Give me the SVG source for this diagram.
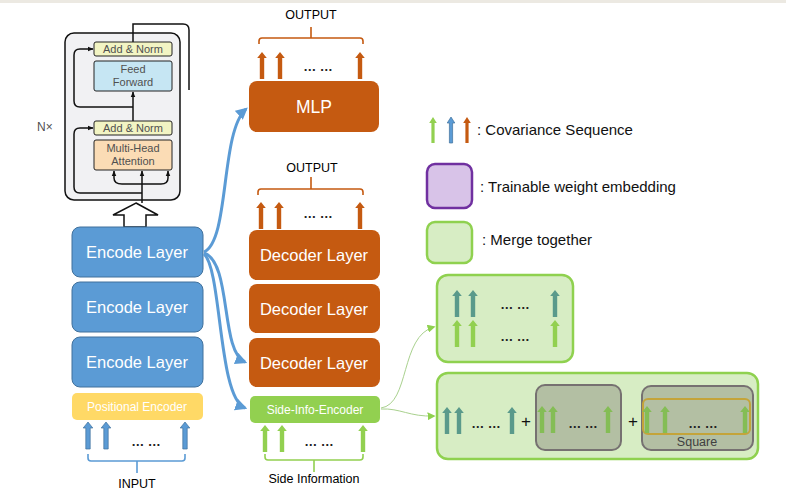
<svg xmlns="http://www.w3.org/2000/svg" xmlns:xlink="http://www.w3.org/1999/xlink" width="786" height="493" viewBox="0 0 786 493">
<style>
text{font-family:"Liberation Sans",Arial,sans-serif}
.lbl{fill:#ffffff;text-anchor:middle}
.big{font-size:16.5px}
.blk{fill:#000;text-anchor:middle;font-size:12.5px}
.leg{fill:#111;font-size:15px}
.tf{fill:#505050;font-size:11px;text-anchor:middle}
.dots{font-size:13px;font-weight:bold;fill:#222;text-anchor:middle}
.enc{fill:#5b9bd5;stroke:#41719c;stroke-width:1}
.dec{fill:#c55a11}
.ab{fill:#5b9bd5;stroke:#41719c;stroke-width:0.7}
.ao{fill:#c55a11}
.ag{fill:#92d050}
.ag2{fill:#84bd55}
.at{fill:#5a9a8b}
.merge{fill:#d7edc4;stroke:#8fd14f;stroke-width:2.5}
.gray{fill:#b3bfa3;stroke:#767171;stroke-width:2}
.tline{fill:none;stroke:#111;stroke-width:1.5}
.tbox{stroke:#222;stroke-width:1}
.brace-b{fill:none;stroke:#5b9bd5;stroke-width:1.6}
.brace-o{fill:none;stroke:#c55a11;stroke-width:1.6}
.brace-g{fill:none;stroke:#92d050;stroke-width:1.6}
.conn-b{fill:none;stroke:#5b9bd5;stroke-width:3}
.conn-g{fill:none;stroke:#a9d18e;stroke-width:1}
</style>
<defs>
<path id="arw" d="M-2.2,27 V6 H-4.8 L0,0 L4.8,6 H2.2 V27 Z"/>
<path id="arwT" d="M-1.6,26 V6 H-3.8 L0,0 L3.8,6 H1.6 V26 Z"/>
<marker id="mb" viewBox="0 0 10 10" refX="8" refY="5" markerWidth="4" markerHeight="4" orient="auto" markerUnits="strokeWidth"><path d="M0,0 L10,5 L0,10 Z" fill="#5b9bd5"/></marker>
<marker id="mg" viewBox="0 0 10 10" refX="8" refY="5" markerWidth="8" markerHeight="8" orient="auto" markerUnits="strokeWidth"><path d="M0,0 L10,5 L0,10 Z" fill="#8fd14f"/></marker>
<marker id="mk" viewBox="0 0 10 10" refX="9" refY="5" markerWidth="4" markerHeight="4" orient="auto" markerUnits="strokeWidth"><path d="M0,1 L10,5 L0,9 Z" fill="#111"/></marker>
</defs>
<rect x="0" y="0" width="786" height="493" fill="#ffffff"/>
<rect x="0" y="0" width="786" height="3" fill="#ece9e2"/>

<g id="transformer">
<rect x="65" y="33" width="115" height="167" rx="9" fill="#f1f1f3" stroke="#111" stroke-width="1.5"/>
<path class="tline" d="M133,42 V24 H183 Q189,24 189,30 V90"/>
<path class="tline" d="M133,107 H80 Q74,107 74,101 V55 Q74,49 80,49 H93" marker-end="url(#mk)"/>
<path class="tline" d="M142,193 H80 Q74,193 74,187 V134 Q74,128 80,128 H93" marker-end="url(#mk)"/>
<path class="tline" d="M133,122 V92" marker-end="url(#mk)"/>
<path class="tline" d="M142,203 V171" marker-end="url(#mk)"/>
<path class="tline" d="M142,184 H122 Q114,184 114,178 V171" marker-end="url(#mk)"/>
<path class="tline" d="M142,184 H161 Q168,184 168,178 V171" marker-end="url(#mk)"/>
<rect class="tbox" x="94" y="42" width="78" height="14" rx="2" fill="#f2f4c3"/>
<text class="tf" x="133" y="53">Add &amp; Norm</text>
<rect class="tbox" x="94" y="61" width="78" height="30" rx="2" fill="#c6e6f3"/>
<text class="tf" x="133" y="73">Feed</text>
<text class="tf" x="133" y="86">Forward</text>
<rect class="tbox" x="94" y="121" width="78" height="14" rx="2" fill="#f2f4c3"/>
<text class="tf" x="133" y="132">Add &amp; Norm</text>
<rect class="tbox" x="94" y="140" width="78" height="30" rx="2" fill="#fbdcb5"/>
<text class="tf" x="133" y="152">Multi-Head</text>
<text class="tf" x="133" y="165">Attention</text>
<text x="37" y="131" font-size="12" fill="#505050">N×</text>
<path d="M136,203 L158,215 H146 V227 H124 V215 H113 Z" fill="#fff" stroke="#111" stroke-width="1.5"/>
</g>

<g id="encode1"><rect class="enc" x="72" y="227" width="131" height="50" rx="8"/><text class="lbl big" x="137" y="258">Encode Layer</text></g>
<g id="encode2"><rect class="enc" x="72" y="282" width="131" height="50" rx="8"/><text class="lbl big" x="137" y="313">Encode Layer</text></g>
<g id="encode3"><rect class="enc" x="72" y="337" width="131" height="50" rx="8"/><text class="lbl big" x="137" y="368">Encode Layer</text></g>
<g id="positional"><rect x="72" y="393" width="131" height="27" rx="5" fill="#ffd966"/><text class="lbl" x="137" y="411" font-size="12">Positional Encoder</text></g>

<g id="input">
<use xlink:href="#arw" href="#arw" class="ab" x="88" y="422"/>
<use xlink:href="#arw" href="#arw" class="ab" x="106" y="422"/>
<use xlink:href="#arw" href="#arw" class="ab" x="185" y="422"/>
<text class="dots" x="146" y="446">… …</text>
<path class="brace-b" d="M88,454 V458 Q88,461 91,461 H182 Q185,461 185,458 V454 M137,461 V473"/>
<text class="blk" x="137" y="488">INPUT</text>
</g>

<g id="mlp">
<rect class="dec" x="249" y="81" width="130" height="51" rx="8"/><text class="lbl" x="314" y="113" font-size="17.5">MLP</text>
<use xlink:href="#arw" href="#arw" class="ao" x="262" y="52"/>
<use xlink:href="#arw" href="#arw" class="ao" x="280" y="52"/>
<use xlink:href="#arw" href="#arw" class="ao" x="360" y="52"/>
<text class="dots" x="318" y="71">… …</text>
<path class="brace-o" d="M259,44 V41 Q259,38 262,38 H360 Q363,38 363,41 V44 M311,38 V27"/>
<text class="blk" x="311" y="19">OUTPUT</text>
</g>

<g id="decoder1">
<rect class="dec" x="249" y="230" width="131" height="50" rx="8"/><text class="lbl big" x="314" y="261">Decoder Layer</text>
<use xlink:href="#arw" href="#arw" class="ao" x="261" y="202"/>
<use xlink:href="#arw" href="#arw" class="ao" x="279" y="202"/>
<use xlink:href="#arw" href="#arw" class="ao" x="360" y="202"/>
<text class="dots" x="318" y="218">… …</text>
<path class="brace-o" d="M258,195 V192 Q258,189 261,189 H360 Q363,189 363,192 V195 M311,189 V177"/>
<text class="blk" x="312" y="172">OUTPUT</text>
</g>
<g id="decoder2"><rect class="dec" x="249" y="284" width="131" height="49" rx="8"/><text class="lbl big" x="314" y="315">Decoder Layer</text></g>
<g id="decoder3"><rect class="dec" x="249" y="338" width="131" height="49" rx="8"/><text class="lbl big" x="314" y="369">Decoder Layer</text></g>

<g id="side-info">
<rect x="250" y="396" width="130" height="27" rx="5" fill="#92d050"/><text class="lbl" x="315" y="414" font-size="12">Side-Info-Encoder</text>
<use xlink:href="#arw" href="#arw" class="ag" x="265" y="425"/>
<use xlink:href="#arw" href="#arw" class="ag" x="282" y="425"/>
<use xlink:href="#arw" href="#arw" class="ag" x="363" y="425"/>
<text class="dots" x="319" y="446">… …</text>
<path class="brace-g" d="M265,454 V457 Q265,460 268,460 H360 Q363,460 363,457 V454 M314,460 V472"/>
<text class="blk" x="314" y="483" font-size="13">Side Information</text>
</g>

<g id="legend">
<use xlink:href="#arwT" href="#arwT" class="ag" x="433" y="117"/>
<use xlink:href="#arwT" href="#arwT" class="ab" x="451" y="117"/>
<use xlink:href="#arwT" href="#arwT" class="ao" x="467" y="117"/>
<text class="leg" x="477" y="135">: Covariance Sequence</text>
<rect x="427" y="164" width="45" height="44" rx="8" fill="#d8c3e8" stroke="#7030a0" stroke-width="2.5"/>
<text class="leg" x="480" y="192">: Trainable weight embedding</text>
<rect x="427" y="222" width="45" height="41" rx="8" fill="#d7edc4" stroke="#8fd14f" stroke-width="2.5"/>
<text class="leg" x="482" y="245">: Merge together</text>
</g>

<g id="merge1">
<rect class="merge" x="437" y="275" width="136" height="87" rx="11"/>
<use xlink:href="#arw" href="#arw" class="at" x="457" y="290"/>
<use xlink:href="#arw" href="#arw" class="at" x="473" y="290"/>
<use xlink:href="#arw" href="#arw" class="at" x="555" y="290"/>
<use xlink:href="#arw" href="#arw" class="ag" x="457" y="320"/>
<use xlink:href="#arw" href="#arw" class="ag" x="473" y="320"/>
<use xlink:href="#arw" href="#arw" class="ag" x="555" y="320"/>
<text class="dots" x="515" y="309">… …</text>
<text class="dots" x="515" y="341">… …</text>
</g>

<g id="merge2">
<rect class="merge" x="437" y="373" width="321" height="86" rx="11"/>
<use xlink:href="#arw" href="#arw" class="at" x="447" y="407"/>
<use xlink:href="#arw" href="#arw" class="at" x="459" y="407"/>
<use xlink:href="#arw" href="#arw" class="at" x="512" y="407"/>
<text class="dots" x="486" y="428">… …</text>
<text x="526" y="427" font-size="17" fill="#111" text-anchor="middle">+</text>
<rect class="gray" x="536" y="385" width="85" height="65" rx="9"/>
<use xlink:href="#arw" href="#arw" class="ag2" x="542" y="406"/>
<use xlink:href="#arw" href="#arw" class="ag2" x="553" y="406"/>
<use xlink:href="#arw" href="#arw" class="ag2" x="608" y="406"/>
<text class="dots" x="583" y="428">… …</text>
<text x="633" y="427" font-size="17" fill="#111" text-anchor="middle">+</text>
<rect class="gray" x="642" y="386" width="111" height="64" rx="9"/>
<rect x="643" y="399" width="107" height="35" rx="5" fill="none" stroke="#c4a43a" stroke-width="2"/>
<use xlink:href="#arw" href="#arw" class="ag2" x="647" y="406"/>
<use xlink:href="#arw" href="#arw" class="ag2" x="665" y="406"/>
<use xlink:href="#arw" href="#arw" class="ag2" x="745" y="406"/>
<text class="dots" x="703" y="428">… …</text>
<text x="697" y="446" font-size="12.5" fill="#404040" text-anchor="middle">Square</text>
</g>

<g id="connectors">
<path class="conn-b" d="M204,252 C230,240 220,132 246,109" marker-end="url(#mb)"/>
<path class="conn-b" d="M204,253 C232,262 220,352 245,362" marker-end="url(#mb)"/>
<path class="conn-b" d="M204,254 C222,270 218,398 245,408" marker-end="url(#mb)"/>
<path class="conn-g" d="M381,408 C410,404 400,336 434,327" marker-end="url(#mg)"/>
<path class="conn-g" d="M381,409 C400,408 410,417 434,416" marker-end="url(#mg)"/>
</g>
</svg>
